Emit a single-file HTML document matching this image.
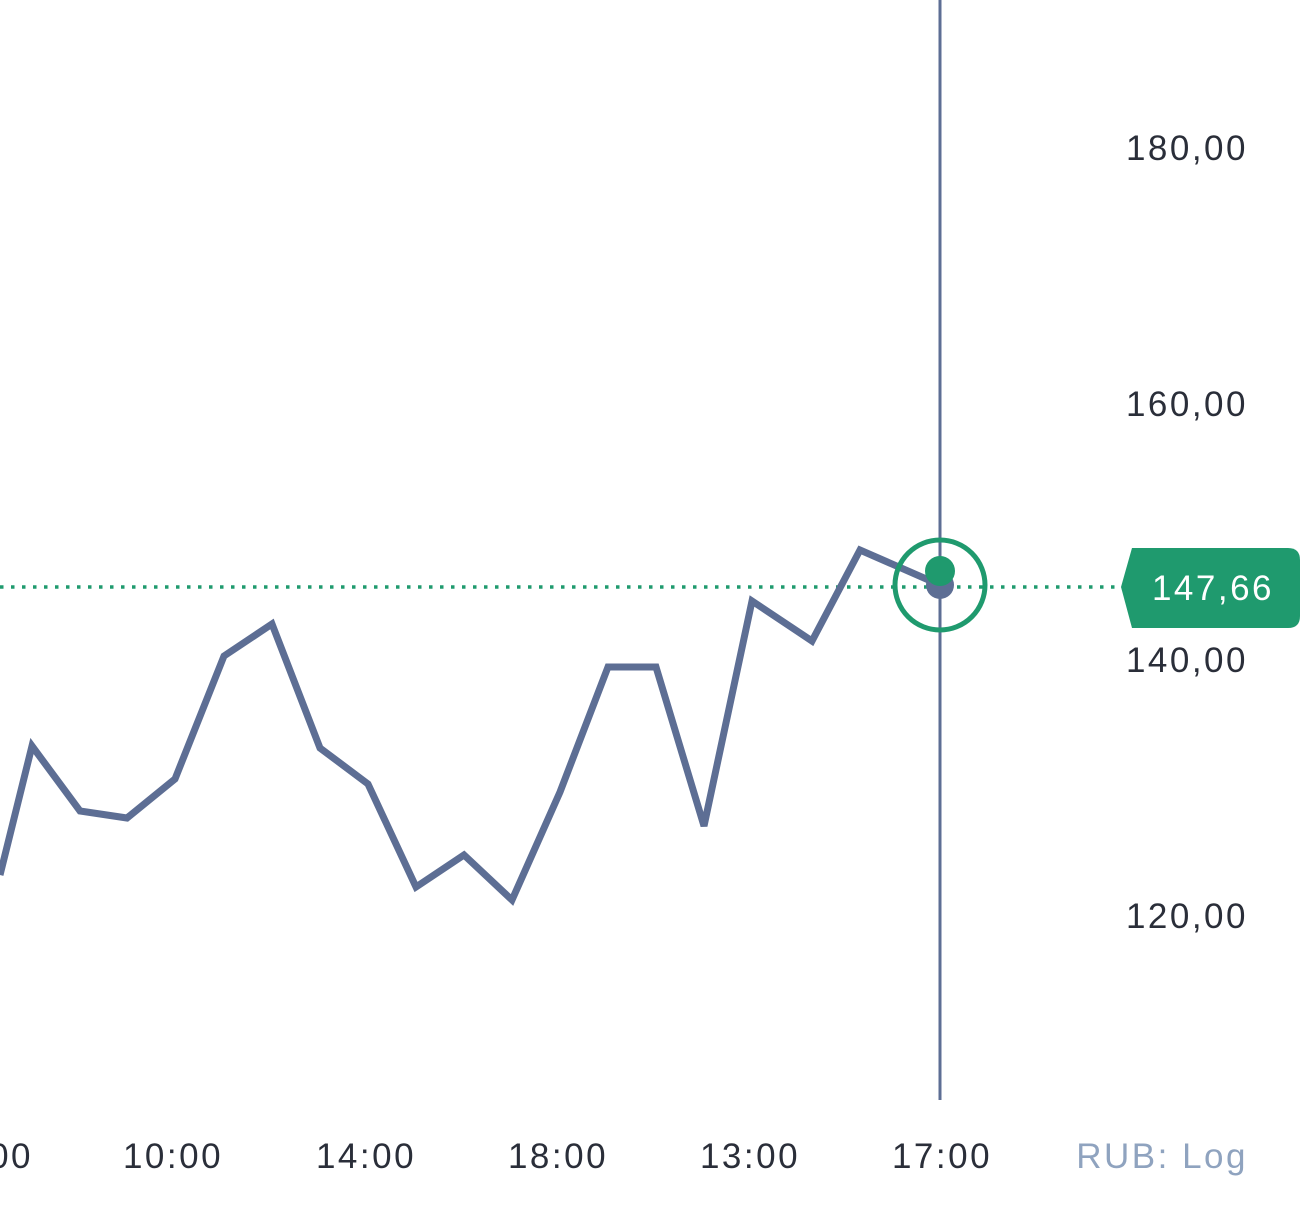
<!DOCTYPE html>
<html><head><style>
html,body{margin:0;padding:0;background:#fff;}
svg{display:block;}
text{font-family:"Liberation Sans",sans-serif;font-size:35px;fill:#2a2e39;letter-spacing:2.5px;}
</style></head><body>
<svg width="1308" height="1220" viewBox="0 0 1308 1220" xmlns="http://www.w3.org/2000/svg">
<line x1="940" y1="0" x2="940" y2="1100" stroke="#5d6e94" stroke-width="3"/>
<line x1="0" y1="587" x2="1122" y2="587" stroke="#1f9a6e" stroke-width="3.5" stroke-dasharray="3.5 7.5"/>
<polyline fill="none" stroke="#5d6e94" stroke-width="7" stroke-linejoin="miter" points="0,875 32,746 80,811 127,818 175,779 224,656 272,624 320,748 368,784 416,887 464,855 512,900 560,792 608,667 656,667 704,826 752,601 812,641 860,550 940,585"/>
<circle cx="940" cy="585" r="14" fill="#5d6e94"/>
<circle cx="940" cy="571" r="15" fill="#1f9a6e"/>
<circle cx="940" cy="585" r="45" fill="none" stroke="#1f9a6e" stroke-width="5"/>
<path d="M1132,548 H1288 Q1300,548 1300,560 V616 Q1300,628 1288,628 H1132 L1121,587 Z" fill="#1f9a6e"/>
<text x="1213" y="600" text-anchor="middle" style="fill:#fff">147,66</text>
<g text-anchor="end">
<text x="1248" y="160">180,00</text>
<text x="1248" y="416">160,00</text>
<text x="1248" y="672">140,00</text>
<text x="1248" y="928">120,00</text>
<text x="1248" y="1168" style="fill:#8fa3bf">RUB: Log</text>
<text x="33" y="1168">9:00</text>
</g>
<g text-anchor="middle">
<text x="173" y="1168">10:00</text>
<text x="366" y="1168">14:00</text>
<text x="558" y="1168">18:00</text>
<text x="750" y="1168">13:00</text>
<text x="942" y="1168">17:00</text>
</g>
</svg>
</body></html>
